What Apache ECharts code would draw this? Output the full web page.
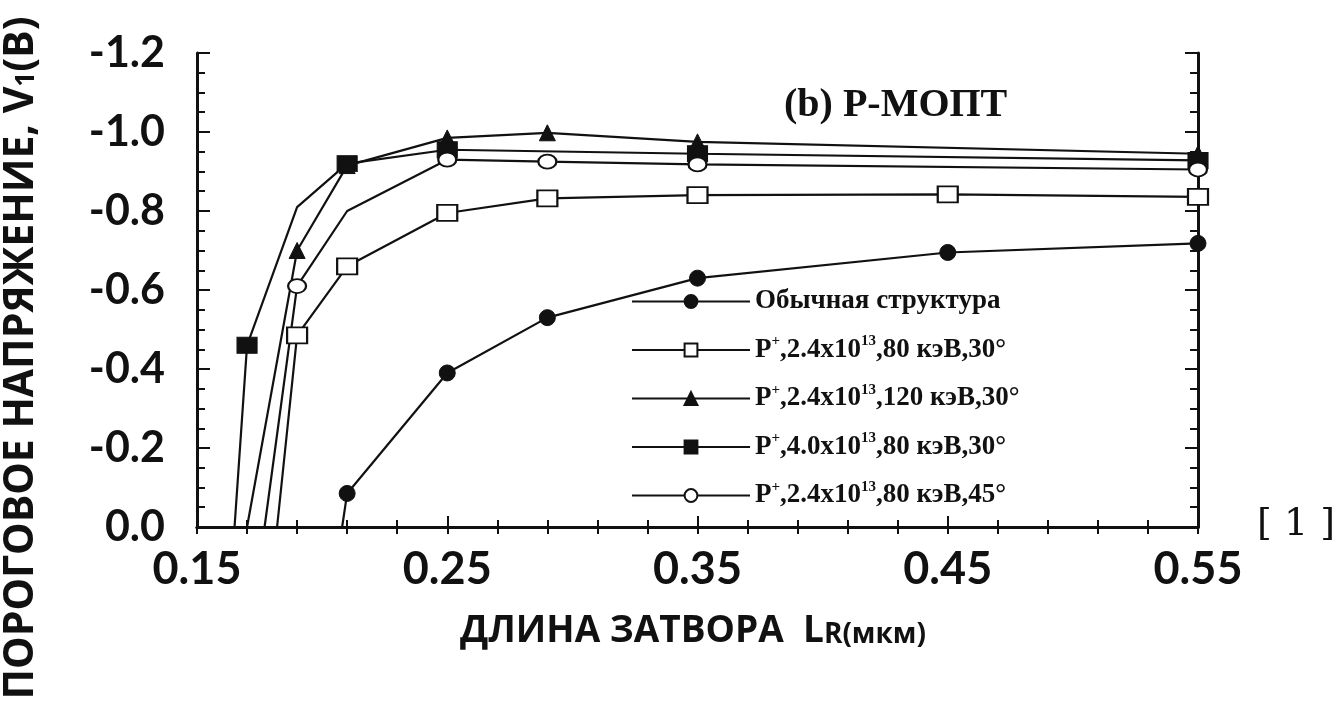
<!DOCTYPE html>
<html>
<head>
<meta charset="utf-8">
<script src="https://cdn.jsdelivr.net/npm/echarts@6/dist/echarts.min.js"></script>
<style>
  html, body { margin: 0; padding: 0; background: #fff; }
  #chart { width: 1340px; height: 713px; }
</style>
</head>
<body>
<div id="chart"></div>
<script>
// Gate length (µm) and threshold voltage (V) for each device structure
const xStd = [0.208, 0.21, 0.25, 0.29, 0.35, 0.45, 0.55];
const vStd = [0, -0.085, -0.39, -0.53, -0.63, -0.695, -0.718];

const xP24_80_30 = [0.182, 0.19, 0.21, 0.25, 0.29, 0.35, 0.45, 0.55];
const vP24_80_30 = [0, -0.485, -0.66, -0.795, -0.832, -0.84, -0.842, -0.836];

const xP24_120_30 = [0.170, 0.19, 0.21, 0.25, 0.29, 0.35, 0.55];
const vP24_120_30 = [0, -0.70, -0.915, -0.985, -0.998, -0.975, -0.945];

const xP40_80_30 = [0.165, 0.17, 0.19, 0.21, 0.25, 0.35, 0.55];
const vP40_80_30 = [0, -0.46, -0.81, -0.92, -0.955, -0.945, -0.928];

const xP24_80_45 = [0.177, 0.19, 0.21, 0.25, 0.29, 0.35, 0.55];
const vP24_80_45 = [0, -0.61, -0.80, -0.93, -0.925, -0.918, -0.905];

const seriesNames = [
  'Обычная структура',
  'P+,2.4x10^13,80 кэВ,30°',
  'P+,2.4x10^13,120 кэВ,30°',
  'P+,4.0x10^13,80 кэВ,30°',
  'P+,2.4x10^13,80 кэВ,45°'
];

const xTicks = [0.15, 0.25, 0.35, 0.45, 0.55];
const yTicks = [0.0, -0.2, -0.4, -0.6, -0.8, -1.0, -1.2];

// points where the curve bends without a drawn marker
const bareIdx = [[0], [0], [0], [0, 2], [0, 2]];

function pts(xs, vs, bare) {
  return xs.map((x, i) => {
    const item = { value: [x, vs[i]] };
    if (bare.indexOf(i) >= 0) item.symbol = 'none';
    return item;
  });
}

const legendRich = {
  'Обычная структура': '{t|Обычная структура}',
  'P+,2.4x10^13,80 кэВ,30°': '{t|P}{s|+}{t|,2.4x10}{s|13}{t|,80 кэВ,30°}',
  'P+,2.4x10^13,120 кэВ,30°': '{t|P}{s|+}{t|,2.4x10}{s|13}{t|,120 кэВ,30°}',
  'P+,4.0x10^13,80 кэВ,30°': '{t|P}{s|+}{t|,4.0x10}{s|13}{t|,80 кэВ,30°}',
  'P+,2.4x10^13,80 кэВ,45°': '{t|P}{s|+}{t|,2.4x10}{s|13}{t|,80 кэВ,45°}'
};

const lineW = 2.2;
const black = '#111';
const filled = { color: black, borderColor: black, borderWidth: 1 };
const hollow = { color: '#fff', borderColor: black, borderWidth: 2 };

const chart = echarts.init(document.getElementById('chart'));

const commonAxisLine = { show: true, lineStyle: { color: black, width: 3 } };

chart.setOption({
  animation: false,
  backgroundColor: '#fff',
  grid: { left: 197, right: 142, top: 53, bottom: 186 },
  xAxis: [
    {
      type: 'value', min: 0.15, max: 0.55, interval: 0.1,
      axisLine: commonAxisLine,
      axisTick: { show: true, inside: true, length: 11, lineStyle: { color: black, width: 2 } },
      minorTick: { show: true, splitNumber: 5, length: 7, lineStyle: { color: black, width: 2 } },
      splitLine: { show: false },
      axisLabel: {
        margin: 20,
        formatter: v => xTicks.some(t => Math.abs(t - v) < 1e-9) ? v.toFixed(2) : '',
        fontFamily: 'Lato', fontWeight: 'bold', fontSize: 45, color: '#111'
      }
    },
    {
      type: 'value', position: 'top', min: 0.15, max: 0.55, interval: 0.1,
      axisLine: commonAxisLine,
      axisTick: { show: true, inside: true, length: 7, lineStyle: { color: black, width: 2 } },
      minorTick: { show: true, splitNumber: 5, length: 7, lineStyle: { color: black, width: 2 } },
      splitLine: { show: false },
      axisLabel: { show: false }
    }
  ],
  yAxis: [
    {
      type: 'value', min: -1.2, max: 0, interval: 0.2, inverse: true,
      axisLine: commonAxisLine,
      axisTick: { show: true, inside: true, length: 13, lineStyle: { color: black, width: 2 } },
      minorTick: { show: true, splitNumber: 4, length: 8, lineStyle: { color: black, width: 2 } },
      splitLine: { show: false },
      axisLabel: {
        margin: 32,
        formatter: v => yTicks.some(t => Math.abs(t - v) < 1e-9) ? (Math.abs(v) < 1e-9 ? '0.0' : v.toFixed(1)) : '',
        fontFamily: 'Lato', fontWeight: 'bold', fontSize: 43, color: '#111'
      }
    },
    {
      type: 'value', position: 'right', min: -1.2, max: 0, interval: 0.2, inverse: true,
      axisLine: commonAxisLine,
      axisTick: { show: true, inside: true, length: 13, lineStyle: { color: black, width: 2 } },
      minorTick: { show: true, splitNumber: 4, length: 8, lineStyle: { color: black, width: 2 } },
      splitLine: { show: false },
      axisLabel: { show: false }
    }
  ],
  legend: {
    orient: 'vertical',
    left: 626,
    top: 283,
    itemWidth: 118,
    itemHeight: 16,
    itemGap: 19,
    data: seriesNames,
    formatter: name => legendRich[name],
    textStyle: {
      rich: {
        t: { fontFamily: 'Liberation Serif', fontWeight: 'bold', fontSize: 27, color: '#111', lineHeight: 32 },
        s: { fontFamily: 'Liberation Serif', fontWeight: 'bold', fontSize: 15, color: '#111', verticalAlign: 'top', lineHeight: 32 }
      }
    }
  },
  graphic: [
    {
      type: 'text', left: 784, top: 86,
      style: { text: '(b) P-МОПТ', font: 'bold 40px "Liberation Serif"', fill: '#111' }
    },
    {
      type: 'text', x: 21, y: 358, rotation: Math.PI / 2,
      style: {
        text: '{a|ПОРОГОВОЕ НАПРЯЖЕНИЕ, V}{b|1}{a|(B)}',
        align: 'center', verticalAlign: 'middle',
        rich: {
          a: { fontFamily: 'Open Sans', fontWeight: 'bold', fontSize: 41, fill: '#111' },
          b: { fontFamily: 'Open Sans', fontWeight: 'bold', fontSize: 26, fill: '#111', padding: [12, 0, 0, 0] }
        }
      }
    },
    {
      type: 'text', x: 693, y: 631,
      style: {
        text: '{a|ДЛИНА ЗАТВОРА  L}{b|R(мкм)}',
        align: 'center', verticalAlign: 'middle',
        rich: {
          a: { fontFamily: 'Open Sans', fontWeight: 'bold', fontSize: 37, fill: '#111' },
          b: { fontFamily: 'Open Sans', fontWeight: 'bold', fontSize: 28, fill: '#111', padding: [8, 0, 0, 0] }
        }
      }
    },
    {
      type: 'text', x: 1296, y: 525,
      style: { text: '[ 1 ]', font: '38px "DejaVu Serif"', fill: '#111', align: 'center', verticalAlign: 'middle' }
    }
  ],
  series: [
    {
      name: seriesNames[0], type: 'line', data: pts(xStd, vStd, bareIdx[0]),
      symbol: 'circle', symbolSize: 16, itemStyle: filled,
      lineStyle: { color: black, width: lineW }
    },
    {
      name: seriesNames[1], type: 'line', data: pts(xP24_80_30, vP24_80_30, bareIdx[1]),
      symbol: 'rect', symbolSize: [20, 16], itemStyle: hollow,
      lineStyle: { color: black, width: lineW }
    },
    {
      name: seriesNames[2], type: 'line', data: pts(xP24_120_30, vP24_120_30, bareIdx[2]),
      symbol: 'triangle', symbolSize: 16, itemStyle: filled,
      lineStyle: { color: black, width: lineW }
    },
    {
      name: seriesNames[3], type: 'line', data: pts(xP40_80_30, vP40_80_30, bareIdx[3]),
      symbol: 'rect', symbolSize: [20, 16], itemStyle: filled,
      lineStyle: { color: black, width: lineW }
    },
    {
      name: seriesNames[4], type: 'line', data: pts(xP24_80_45, vP24_80_45, bareIdx[4]),
      symbol: 'circle', symbolSize: [18, 14], itemStyle: hollow,
      lineStyle: { color: black, width: lineW }
    }
  ]
});
</script>
</body>
</html>
